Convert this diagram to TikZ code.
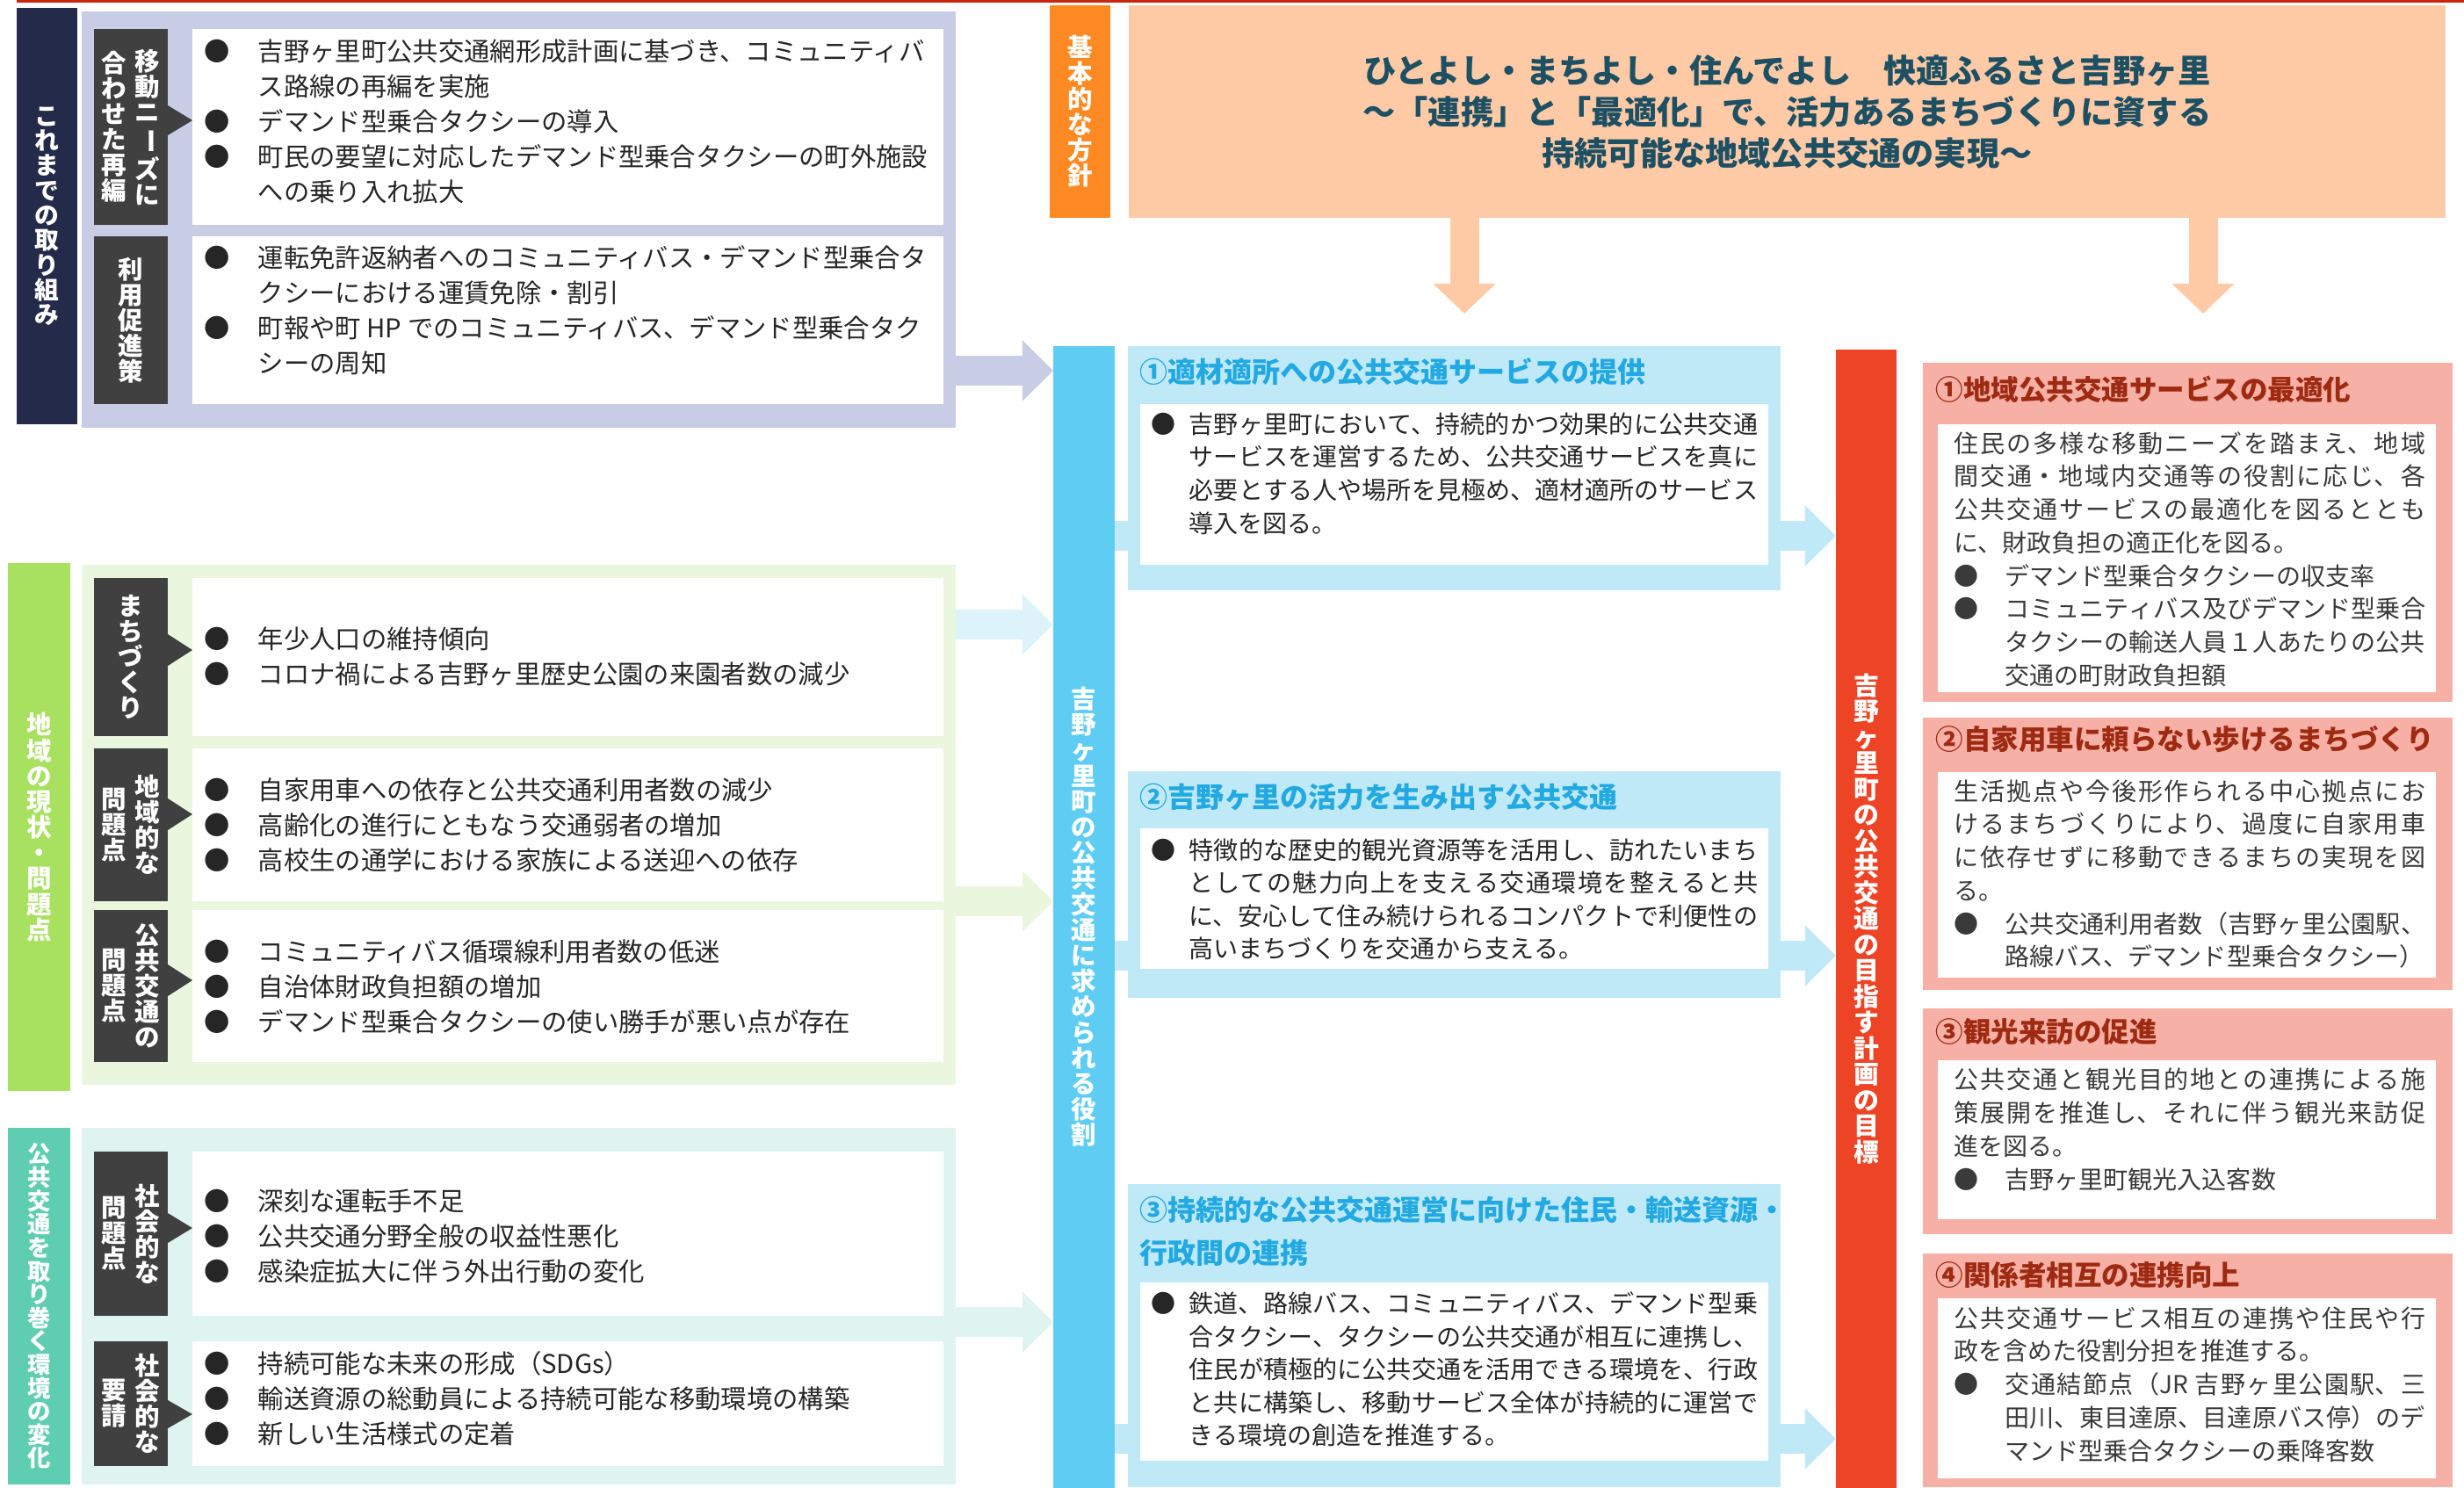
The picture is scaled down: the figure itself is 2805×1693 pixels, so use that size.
\documentclass[tikz,border=0pt]{standalone}
\usepackage{fontspec}
\setmainfont{Noto Sans CJK JP}
\usepackage{graphicx}
\usetikzlibrary{arrows.meta}
\XeTeXlinebreaklocale "ja"
\XeTeXlinebreakskip=0pt plus 1pt

\definecolor{topline}{HTML}{C8260F}
\definecolor{navy}{HTML}{232A4A}
\definecolor{lav}{HTML}{C9CCE5}
\definecolor{labgray}{HTML}{404040}
\definecolor{lime}{HTML}{A8E05F}
\definecolor{limebg}{HTML}{EBF6DE}
\definecolor{mint}{HTML}{5FCDB2}
\definecolor{mintbg}{HTML}{DFF4EE}
\definecolor{skyarrow}{HTML}{DDF3FB}
\definecolor{orangebar}{HTML}{FF8A24}
\definecolor{peach}{HTML}{FFCAA5}
\definecolor{bannertext}{HTML}{1E5064}
\definecolor{rolebar}{HTML}{5FCDF3}
\definecolor{rolecard}{HTML}{C0E9F8}
\definecolor{roleblue}{HTML}{22A9E2}
\definecolor{goalbar}{HTML}{EE4426}
\definecolor{goalcard}{HTML}{F7B0A5}
\definecolor{goalred}{HTML}{9E2A12}
\definecolor{bodyblack}{HTML}{262626}
\definecolor{goalbody}{HTML}{3A3A3A}

\newlength\bulw
\newcommand\bul{\makebox[\bulw][l]{●}}
\newcommand\ind{\hspace*{\bulw}}
\makeatletter
\newcommand\vtxt[1]{\vbox{\@tfor\vch:=#1\do{\hbox to 1em{\hss\vch\hss}}}}
\makeatother

\tikzstyle{sidebar} = [rectangle, anchor=north west, inner sep=0pt, outer sep=0pt, text=white, font=\bfseries\fontsize{8.1}{8.3}\selectfont]
\tikzstyle{panel} = [rectangle, anchor=north west, inner sep=0pt, outer sep=0pt]
\tikzstyle{labelbox} = [panel, fill=labgray, minimum width=0.84cm]
\tikzstyle{whitebox} = [panel, fill=white]
\tikzstyle{vlabel} = [inner sep=0pt, text=white, font=\bfseries\fontsize{8.1}{8.25}\selectfont]
\tikzstyle{prevtext} = [anchor=west, inner sep=0pt, align=left, text=bodyblack, font=\fontsize{8.34}{11.38}\selectfont, execute at begin node={\setlength\bulw{0.61cm}}]
\tikzstyle{roletext} = [anchor=west, inner sep=0pt, text width=6.90cm, align=justify, text=bodyblack, font=\fontsize{7.97}{10.67}\selectfont, execute at begin node={\setlength\bulw{0.43cm}\parindent=0pt}]
\tikzstyle{goaltext} = [anchor=west, inner sep=0pt, text width=5.36cm, align=justify, text=goalbody, font=\fontsize{7.97}{10.73}\selectfont, execute at begin node={\setlength\bulw{0.58cm}\parindent=0pt}]
\tikzstyle{roletitle} = [anchor=west, inner sep=0pt, align=left, text=roleblue, font=\bfseries\fontsize{9.1}{13.94}\selectfont]
\tikzstyle{goaltitle} = [anchor=west, inner sep=0pt, text=goalred, font=\bfseries\fontsize{8.96}{8.96}\selectfont]
\tikzstyle{blockarrow} = [line width=0.34cm, -{Triangle[length=0.35cm, width=0.67cm]}]
\tikzstyle{stub} = [line width=0.34cm, draw=rolecard]

\begin{document}
\begin{tikzpicture}[x=0.01cm, y=-0.01cm]
    \useasboundingbox (0,0) rectangle (2805,1693);
    \fill [topline] (19,0) rectangle (2805,3);

    \node (prev-bar) [sidebar, fill=navy, minimum width=0.69cm, minimum height=4.74cm, font=\bfseries\fontsize{7.9}{8.05}\selectfont] at (19,9) {\vtxt{これまでの取り組み}};
    \node (prev-bg) [panel, fill=lav, minimum width=9.94cm, minimum height=4.74cm] at (93,13) {};
    \node (prev-lab1) [labelbox, minimum height=2.23cm] at (107,33) {};
    \node (prev-box1) [whitebox, minimum width=8.54cm, minimum height=2.23cm] at (219,33) {};
    \node (prev-lab2) [labelbox, minimum height=1.91cm] at (107,269) {};
    \node (prev-box2) [whitebox, minimum width=8.54cm, minimum height=1.91cm] at (219,269) {};

    \node (area-bar) [sidebar, fill=lime, minimum width=0.71cm, minimum height=6.01cm] at (9,641) {\vtxt{地域の現状・問題点}};
    \node (area-bg) [panel, fill=limebg, minimum width=9.94cm, minimum height=5.92cm] at (93,643) {};
    \node (area-lab1) [labelbox, minimum height=1.80cm] at (107,658) {};
    \node (area-box1) [whitebox, minimum width=8.54cm, minimum height=1.80cm] at (219,658) {};
    \node (area-lab2) [labelbox, minimum height=1.74cm] at (107,852) {};
    \node (area-box2) [whitebox, minimum width=8.54cm, minimum height=1.74cm] at (219,852) {};
    \node (area-lab3) [labelbox, minimum height=1.73cm] at (107,1036) {};
    \node (area-box3) [whitebox, minimum width=8.54cm, minimum height=1.73cm] at (219,1036) {};

    \node (env-bar) [sidebar, fill=mint, minimum width=0.71cm, minimum height=4.06cm, font=\bfseries\fontsize{7.5}{7.57}\selectfont] at (9,1284) {\vtxt{公共交通を取り巻く環境の変化}};
    \node (env-bg) [panel, fill=mintbg, minimum width=9.94cm, minimum height=4.06cm] at (93,1284) {};
    \node (env-lab1) [labelbox, minimum height=1.87cm] at (107,1311) {};
    \node (env-box1) [whitebox, minimum width=8.54cm, minimum height=1.87cm] at (219,1311) {};
    \node (env-lab2) [labelbox, minimum height=1.42cm] at (107,1527) {};
    \node (env-box2) [whitebox, minimum width=8.54cm, minimum height=1.42cm] at (219,1527) {};

    \fill [labgray] (prev-lab1.east |- 0,120) -- (prev-box1.west |- 0,137) -- (prev-lab1.east |- 0,154) -- cycle;
    \fill [labgray] (area-lab1.east |- 0,722) -- (area-box1.west |- 0,740) -- (area-lab1.east |- 0,758) -- cycle;
    \fill [labgray] (area-lab2.east |- 0,909) -- (area-box2.west |- 0,927) -- (area-lab2.east |- 0,945) -- cycle;
    \fill [labgray] (area-lab3.east |- 0,1098) -- (area-box3.west |- 0,1116) -- (area-lab3.east |- 0,1134) -- cycle;
    \fill [labgray] (env-lab1.east |- 0,1381) -- (env-box1.west |- 0,1398) -- (env-lab1.east |- 0,1415) -- cycle;
    \fill [labgray] (env-lab2.east |- 0,1594) -- (env-box2.west |- 0,1610) -- (env-lab2.east |- 0,1626) -- cycle;

    \node (prev-lab1-r) [vlabel] at ([xshift=0.19cm]prev-lab1.center) {\vtxt{移動ニ{\rotatebox[origin=c]{-90}{ー}}ズに}};
    \node (prev-lab1-l) [vlabel] at ([xshift=-0.19cm]prev-lab1.center) {\vtxt{合わせた再編}};
    \node (prev-lab2-t) [vlabel] at (prev-lab2.center) {\vtxt{利用促進策}};
    \node (area-lab1-t) [vlabel] at (area-lab1.center) {\vtxt{まちづくり}};
    \node (area-lab2-r) [vlabel] at ([xshift=0.19cm]area-lab2.center) {\vtxt{地域的な}};
    \node (area-lab2-l) [vlabel] at ([xshift=-0.19cm]area-lab2.center) {\vtxt{問題点}};
    \node (area-lab3-r) [vlabel] at ([xshift=0.19cm]area-lab3.center) {\vtxt{公共交通の}};
    \node (area-lab3-l) [vlabel] at ([xshift=-0.19cm]area-lab3.center) {\vtxt{問題点}};
    \node (env-lab1-r) [vlabel] at ([xshift=0.19cm]env-lab1.center) {\vtxt{社会的な}};
    \node (env-lab1-l) [vlabel] at ([xshift=-0.19cm]env-lab1.center) {\vtxt{問題点}};
    \node (env-lab2-r) [vlabel] at ([xshift=0.19cm]env-lab2.center) {\vtxt{社会的な}};
    \node (env-lab2-l) [vlabel] at ([xshift=-0.19cm]env-lab2.center) {\vtxt{要請}};

    \node (prev-list1) [prevtext] at (232,138) {\bul 吉野ヶ里町公共交通網形成計画に基づき、コミュニティバ\\\ind ス路線の再編を実施\\\bul デマンド型乗合タクシーの導入\\\bul 町民の要望に対応したデマンド型乗合タクシーの町外施設\\\ind への乗り入れ拡大};
    \node (prev-list2) [prevtext] at (232,353) {\bul 運転免許返納者へのコミュニティバス・デマンド型乗合タ\\\ind クシーにおける運賃免除・割引\\\bul 町報や町 HP でのコミュニティバス、デマンド型乗合タク\\\ind シーの周知};
    \node (area-list1) [prevtext] at (232,747) {\bul 年少人口の維持傾向\\\bul コロナ禍による吉野ヶ里歴史公園の来園者数の減少};
    \node (area-list2) [prevtext] at (232,939) {\bul 自家用車への依存と公共交通利用者数の減少\\\bul 高齢化の進行にともなう交通弱者の増加\\\bul 高校生の通学における家族による送迎への依存};
    \node (area-list3) [prevtext] at (232,1123) {\bul コミュニティバス循環線利用者数の低迷\\\bul 自治体財政負担額の増加\\\bul デマンド型乗合タクシーの使い勝手が悪い点が存在};
    \node (env-list1) [prevtext] at (232,1407) {\bul 深刻な運転手不足\\\bul 公共交通分野全般の収益性悪化\\\bul 感染症拡大に伴う外出行動の変化};
    \node (env-list2) [prevtext] at (232,1592) {\bul 持続可能な未来の形成（SDGs）\\\bul 輸送資源の総動員による持続可能な移動環境の構築\\\bul 新しい生活様式の定着};

    \node (policy-bar) [sidebar, fill=orangebar, minimum width=0.69cm, minimum height=2.42cm] at (1195,6) {\vtxt{基本的な方針}};
    \node (banner) [panel, fill=peach, minimum width=14.98cm, minimum height=2.42cm, align=center, text=bannertext, font=\bfseries\fontsize{10.58}{13.37}\selectfont] at (1285,6) {ひとよし・まちよし・住んでよし　快適ふるさと吉野ヶ里\\～「連携」と「最適化」で、活力あるまちづくりに資する\\持続可能な地域公共交通の実現～};

    \node (role-bar) [sidebar, fill=rolebar, minimum width=0.70cm, minimum height=12.99cm] at (1199,394) {\vtxt{吉野ヶ里町の公共交通に求められる役割}};
    \node (role-card1) [panel, fill=rolecard, minimum width=7.43cm, minimum height=2.78cm] at (1284,394) {};
    \node (role-box1) [whitebox, minimum width=7.15cm, minimum height=1.83cm] at (1298,460) {};
    \node (role-title1) [roletitle] at (1297,423) {①適材適所への公共交通サービスの提供};
    \node (role-list1) [roletext] at (1310,539) {\bul 吉野ヶ里町において、持続的かつ効果的に公共交通\linebreak\ind サービスを運営するため、公共交通サービスを真に\linebreak\ind 必要とする人や場所を見極め、適材適所のサービス\linebreak\ind 導入を図る。};

    \node (role-card2) [panel, fill=rolecard, minimum width=7.43cm, minimum height=2.58cm] at (1284,878) {};
    \node (role-box2) [whitebox, minimum width=7.15cm, minimum height=1.60cm] at (1298,943) {};
    \node (role-title2) [roletitle] at (1297,907) {②吉野ヶ里の活力を生み出す公共交通};
    \node (role-list2) [roletext] at (1310,1024) {\bul 特徴的な歴史的観光資源等を活用し、訪れたいまち\linebreak\ind としての魅力向上を支える交通環境を整えると共\linebreak\ind に、安心して住み続けられるコンパクトで利便性の\linebreak\ind 高いまちづくりを交通から支える。};

    \node (role-card3) [panel, fill=rolecard, minimum width=7.43cm, minimum height=3.45cm] at (1284,1348) {};
    \node (role-box3) [whitebox, minimum width=7.15cm, minimum height=2.03cm] at (1298,1460) {};
    \node (role-title3) [roletitle] at (1297,1401.5) {③持続的な公共交通運営に向けた住民・輸送資源・\\行政間の連携};
    \node (role-list3) [roletext] at (1310,1559) {\bul 鉄道、路線バス、コミュニティバス、デマンド型乗\linebreak\ind 合タクシー、タクシーの公共交通が相互に連携し、\linebreak\ind 住民が積極的に公共交通を活用できる環境を、行政\linebreak\ind と共に構築し、移動サービス全体が持続的に運営で\linebreak\ind きる環境の創造を推進する。};

    \node (goal-bar) [sidebar, fill=goalbar, minimum width=0.69cm, minimum height=12.95cm, font=\bfseries\fontsize{8.2}{8.39}\selectfont] at (2090,398) {\vtxt{吉野ヶ里町の公共交通の目指す計画の目標}};

    \node (goal-card1) [panel, fill=goalcard, minimum width=6.03cm, minimum height=3.86cm] at (2189,413) {};
    \node (goal-box1) [whitebox, minimum width=5.67cm, minimum height=3.05cm] at (2206,483) {};
    \node (goal-title1) [goaltitle] at (2203,443) {①地域公共交通サービスの最適化};
    \node (goal-list1) [goaltext] at (2224,636.5) {住民の多様な移動ニーズを踏まえ、地域\linebreak 間交通・地域内交通等の役割に応じ、各\linebreak 公共交通サービスの最適化を図るととも\linebreak に、財政負担の適正化を図る。\\\bul デマンド型乗合タクシーの収支率\\\bul コミュニティバス及びデマンド型乗合\linebreak\ind タクシーの輸送人員１人あたりの公共\linebreak\ind 交通の町財政負担額};

    \node (goal-card2) [panel, fill=goalcard, minimum width=6.03cm, minimum height=3.10cm] at (2189,817) {};
    \node (goal-box2) [whitebox, minimum width=5.67cm, minimum height=2.34cm] at (2206,879) {};
    \node (goal-title2) [goaltitle] at (2203,842) {②自家用車に頼らない歩けるまちづくり};
    \node (goal-list2) [goaltext] at (2224,995) {生活拠点や今後形作られる中心拠点にお\linebreak けるまちづくりにより、過度に自家用車\linebreak に依存せずに移動できるまちの実現を図\linebreak る。\\\bul 公共交通利用者数（吉野ヶ里公園駅、\linebreak\ind 路線バス、デマンド型乗合タクシー）};

    \node (goal-card3) [panel, fill=goalcard, minimum width=6.03cm, minimum height=2.57cm] at (2189,1148) {};
    \node (goal-box3) [whitebox, minimum width=5.67cm, minimum height=1.81cm] at (2206,1207) {};
    \node (goal-title3) [goaltitle] at (2203,1174) {③観光来訪の促進};
    \node (goal-list3) [goaltext] at (2224,1286) {公共交通と観光目的地との連携による施\linebreak 策展開を推進し、それに伴う観光来訪促\linebreak 進を図る。\\\bul 吉野ヶ里町観光入込客数};

    \node (goal-card4) [panel, fill=goalcard, minimum width=6.03cm, minimum height=2.66cm] at (2189,1427) {};
    \node (goal-box4) [whitebox, minimum width=5.67cm, minimum height=2.05cm] at (2206,1478) {};
    \node (goal-title4) [goaltitle] at (2203,1452) {④関係者相互の連携向上};
    \node (goal-list4) [goaltext] at (2224,1576) {公共交通サービス相互の連携や住民や行\linebreak 政を含めた役割分担を推進する。\\\bul 交通結節点（JR 吉野ヶ里公園駅、三\linebreak\ind 田川、東目達原、目達原バス停）のデ\linebreak\ind マンド型乗合タクシーの乗降客数};

    \coordinate (policy-l) at (1667,357);
    \coordinate (policy-r) at (2508,357);
    \draw [blockarrow, draw=peach, line width=0.33cm, -{Triangle[length=0.34cm, width=0.69cm]}] (banner.south -| policy-l) -- (policy-l);
    \draw [blockarrow, draw=peach, line width=0.33cm, -{Triangle[length=0.34cm, width=0.69cm]}] (banner.south -| policy-r) -- (policy-r);

    \draw [blockarrow, draw=lav] (prev-bg.east |- 0,422) -- (role-bar.west |- 0,422);
    \draw [blockarrow, draw=skyarrow] (area-bg.east |- 0,711) -- (role-bar.west |- 0,711);
    \draw [blockarrow, draw=limebg] (area-bg.east |- 0,1026) -- (role-bar.west |- 0,1026);
    \draw [blockarrow, draw=mintbg] (env-bg.east |- 0,1505) -- (role-bar.west |- 0,1505);

    \draw [stub] (role-bar.east |- 0,610) -- (role-card1.west |- 0,610);
    \draw [stub] (role-bar.east |- 0,1088) -- (role-card2.west |- 0,1088);
    \draw [stub] (role-bar.east |- 0,1638) -- (role-card3.west |- 0,1638);

    \draw [blockarrow, draw=rolecard] (role-card1.east |- 0,610) -- (goal-bar.west |- 0,610);
    \draw [blockarrow, draw=rolecard] (role-card2.east |- 0,1088) -- (goal-bar.west |- 0,1088);
    \draw [blockarrow, draw=rolecard] (role-card3.east |- 0,1638) -- (goal-bar.west |- 0,1638);
\end{tikzpicture}
\end{document}
